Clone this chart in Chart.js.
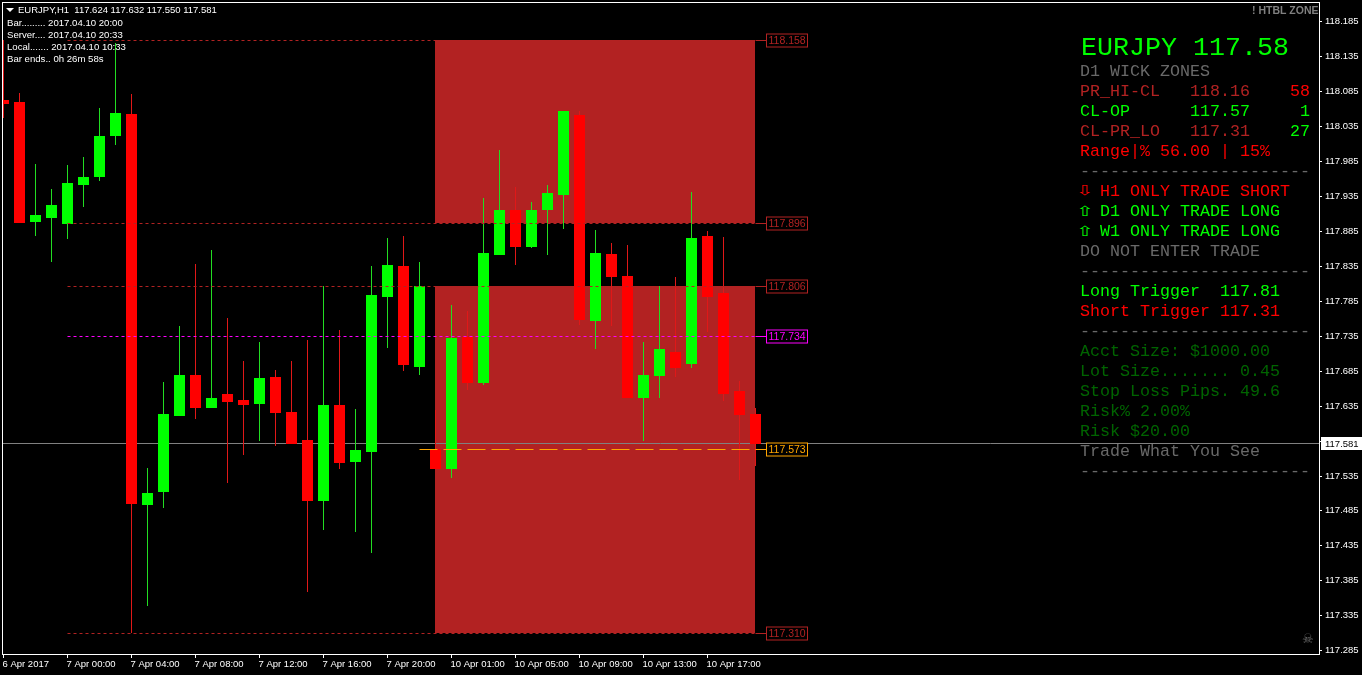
<!DOCTYPE html>
<html>
<head>
<meta charset="utf-8">
<title>EURJPY,H1</title>
<script src="https://cdn.jsdelivr.net/npm/chart.js@4/dist/chart.umd.js"></script>
<style>
	html, body { margin: 0; padding: 0; background: #000; }
	canvas { display: block; }
</style>
</head>
<body>
<canvas id="chart" width="1362" height="675"></canvas>
<script>
const opens = [118.073,118.070,117.898,117.904,117.896,117.951,117.963,118.021,118.053,117.494,117.512,117.621,117.680,117.632,117.652,117.644,117.638,117.677,117.627,117.587,117.499,117.637,117.555,117.569,117.791,117.835,117.691,117.573,117.545,117.734,117.668,117.851,117.916,117.863,117.916,117.937,118.051,117.757,117.853,117.821,117.647,117.678,117.712,117.695,117.878,117.797,117.657,117.624];
const highs = [118.159,118.083,117.981,117.946,117.980,117.991,118.062,118.155,118.082,117.547,117.670,117.750,117.838,117.858,117.761,117.700,117.727,117.687,117.700,117.730,117.807,117.744,117.631,117.835,117.876,117.878,117.841,117.629,117.780,117.771,117.933,118.001,117.948,117.927,117.951,118.057,118.057,117.887,117.868,117.866,117.727,117.807,117.820,117.941,117.886,117.877,117.671,117.632];
const lows = [118.047,117.897,117.878,117.841,117.874,117.920,117.957,118.009,117.310,117.349,117.489,117.621,117.617,117.632,117.525,117.565,117.585,117.578,117.581,117.369,117.458,117.545,117.455,117.425,117.718,117.685,117.680,117.545,117.532,117.658,117.665,117.851,117.837,117.861,117.851,117.888,117.751,117.717,117.750,117.647,117.585,117.647,117.677,117.690,117.741,117.642,117.529,117.550];
const closes = [118.067,117.897,117.908,117.923,117.954,117.963,118.021,118.054,117.495,117.511,117.624,117.680,117.632,117.647,117.641,117.637,117.675,117.625,117.581,117.499,117.637,117.554,117.572,117.794,117.837,117.694,117.807,117.545,117.732,117.668,117.854,117.916,117.863,117.916,117.940,118.057,117.758,117.854,117.820,117.647,117.680,117.717,117.690,117.876,117.791,117.652,117.622,117.581];

const timeTickBars = [0,4,8,12,16,20,24,28,32,36,40,44];
const timeTickLabels = ["6 Apr 2017","7 Apr 00:00","7 Apr 04:00","7 Apr 08:00","7 Apr 12:00","7 Apr 16:00","7 Apr 20:00","10 Apr 01:00","10 Apr 05:00","10 Apr 09:00","10 Apr 13:00","10 Apr 17:00"];
const priceTicks = [118.185,118.135,118.085,118.035,117.985,117.935,117.885,117.835,117.785,117.735,117.685,117.635,117.585,117.535,117.485,117.435,117.385,117.335,117.285];

const levelValues = [118.158,117.896,117.806,117.734,117.573,117.310];
const levelStartBars = [4,4,4,4,26,4];
const levelEndBar = 47;
const bidPrice = 117.581;

const zoneTops = [118.158,117.806];
const zoneBottoms = [117.896,117.310];
const zoneStartBar = 27;
const zoneEndBar = 47;

const RED = "#ff0000";
const LIME = "#00ff00";
const FIREBRICK = "#b22222";
const GRAY = "#696969";
const DARKGREEN = "#006400";
const levelColors = [FIREBRICK, FIREBRICK, FIREBRICK, "#ff00ff", "#ffa500", FIREBRICK];
const levelDashes = [[3,3],[3,3],[3,3],[3,3],[18,6],[3,3]];

const MONO = "'Liberation Mono', monospace";
const SANS = "'Liberation Sans', sans-serif";
const bars = opens.map((o, i) => i);

// bodies snap to the nearest pixel row, lines and ticks to the row above
let snapNearest = false;


function put(ctx, str, x, y, color, font) {
	ctx.fillStyle = color;
	ctx.font = font;
	ctx.textAlign = "left";
	ctx.textBaseline = "middle";
	ctx.fillText(str, x, y);
}

// the DejaVu arrows are too narrow, so stretch them sideways
function putArrow(ctx, str, x, y, color) {
	ctx.save();
	ctx.translate(x, y);
	ctx.scale(1.5, 1);
	put(ctx, str, 0, 0, color, "14px 'DejaVu Sans'");
	ctx.restore();
}

function drawInfo(ctx) {
	const small = "9.6px " + SANS;

	ctx.fillStyle = "#fff";
	ctx.beginPath();
	ctx.moveTo(6, 8);
	ctx.lineTo(14, 8);
	ctx.lineTo(10, 12);
	ctx.fill();

	put(ctx, "EURJPY,H1  117.624 117.632 117.550 117.581", 18, 10.5, "#fff", "9.5px " + SANS);
	put(ctx, "Bar......... 2017.04.10 20:00", 7, 23.5, "#fff", small);
	put(ctx, "Server.... 2017.04.10 20:33", 7, 35.5, "#fff", small);
	put(ctx, "Local....... 2017.04.10 10:33", 7, 47.5, "#fff", small);
	put(ctx, "Bar ends.. 0h 26m 58s", 7, 59.5, "#fff", small);

	put(ctx, "! HTBL ZONE", 1252, 11, "#808080", "bold 10.5px " + SANS);
	put(ctx, "\u2620", 1302, 640, GRAY, "13px 'DejaVu Sans'");
}

function drawPanel(ctx) {
	const mono = "16.67px " + MONO;
	const dashes = "-----------------------";

	put(ctx, "EURJPY 117.58", 1081, 48, LIME, "26.67px " + MONO);
	put(ctx, "D1 WICK ZONES", 1080, 72, GRAY, mono);

	put(ctx, "PR_HI-CL", 1080, 92, FIREBRICK, mono);
	put(ctx, "118.16", 1190, 92, FIREBRICK, mono);
	put(ctx, "58", 1290, 92, RED, mono);
	put(ctx, "CL-OP", 1080, 112, LIME, mono);
	put(ctx, "117.57", 1190, 112, LIME, mono);
	put(ctx, "1", 1300, 112, LIME, mono);
	put(ctx, "CL-PR_LO", 1080, 132, FIREBRICK, mono);
	put(ctx, "117.31", 1190, 132, FIREBRICK, mono);
	put(ctx, "27", 1290, 132, LIME, mono);
	put(ctx, "Range|% 56.00 | 15%", 1080, 152, RED, mono);
	put(ctx, dashes, 1080, 172, GRAY, mono);

	putArrow(ctx, "\u21e9", 1076, 191, RED);
	put(ctx, "H1 ONLY TRADE SHORT", 1100, 192, RED, mono);
	putArrow(ctx, "\u21e7", 1076, 212, LIME);
	put(ctx, "D1 ONLY TRADE LONG", 1100, 212, LIME, mono);
	putArrow(ctx, "\u21e7", 1076, 232, LIME);
	put(ctx, "W1 ONLY TRADE LONG", 1100, 232, LIME, mono);
	put(ctx, "DO NOT ENTER TRADE", 1080, 252, GRAY, mono);
	put(ctx, dashes, 1080, 272, GRAY, mono);

	put(ctx, "Long Trigger  117.81", 1080, 292, LIME, mono);
	put(ctx, "Short Trigger 117.31", 1080, 312, RED, mono);
	put(ctx, dashes, 1080, 332, GRAY, mono);

	put(ctx, "Acct Size: $1000.00", 1080, 352, DARKGREEN, mono);
	put(ctx, "Lot Size....... 0.45", 1080, 372, DARKGREEN, mono);
	put(ctx, "Stop Loss Pips. 49.6", 1080, 392, DARKGREEN, mono);
	put(ctx, "Risk% 2.00%", 1080, 412, DARKGREEN, mono);
	put(ctx, "Risk $20.00", 1080, 432, DARKGREEN, mono);
	put(ctx, "Trade What You See", 1080, 452, GRAY, mono);
	put(ctx, dashes, 1080, 472, GRAY, mono);
}

// zones go under the candles, everything else goes over them
const overlayPlugin = {
	id: "overlay",
	beforeDatasetUpdate(chart, args) {
		snapNearest = args.meta.type === "bar";
	},
	afterDatasetUpdate() {
		snapNearest = false;
	},
	beforeDatasetsDraw(chart) {
		const { ctx, scales: { x, y } } = chart;
		const left = Math.floor(x.getPixelForValue(zoneStartBar));
		const right = Math.floor(x.getPixelForValue(zoneEndBar));
		ctx.save();
		ctx.fillStyle = FIREBRICK;
		zoneTops.forEach((top, i) => {
			const yTop = y.getPixelForValue(top);
			ctx.fillRect(left, yTop, right - left, y.getPixelForValue(zoneBottoms[i]) - yTop);
		});
		ctx.restore();
	},
	beforeDatasetDraw(chart, args) {
		if (args.meta.type === "line") {
			chart.ctx.save();
			chart.ctx.translate(0, 0.5);
		}
	},
	afterDatasetDraw(chart, args) {
		if (args.meta.type === "line") chart.ctx.restore();
	},
	afterDatasetsDraw(chart) {
		const { ctx, chartArea, scales: { x, y } } = chart;
		ctx.save();

		drawInfo(ctx);
		drawPanel(ctx);

		// price tags at the end of each level
		const endX = x.getPixelForValue(levelEndBar);
		levelValues.forEach((value, i) => {
			const py = y.getPixelForValue(value) + 0.5;
			ctx.strokeStyle = levelColors[i];
			ctx.lineWidth = 1;
			ctx.beginPath();
			ctx.moveTo(endX, py);
			ctx.lineTo(endX + 11, py);
			ctx.stroke();
			ctx.fillStyle = "#000";
			ctx.fillRect(endX + 11, py - 6.5, 41, 13);
			ctx.strokeRect(Math.floor(endX) + 11.5, py - 6.5, 41, 13);
			put(ctx, value.toFixed(3), endX + 13, py + 0.5, levelColors[i], "10.5px " + SANS);
		});

		// chart frame
		ctx.strokeStyle = "#fff";
		ctx.lineWidth = 1;
		ctx.strokeRect(chartArea.left + 0.5, chartArea.top + 0.5, chartArea.right - chartArea.left, chartArea.bottom - chartArea.top);

		// bid tag on the price axis
		const bidY = y.getPixelForValue(bidPrice);
		ctx.fillStyle = "#fff";
		ctx.fillRect(1321, bidY - 6, 41, 13);
		put(ctx, bidPrice.toFixed(3), 1325, bidY + 1, "#000", "9.5px " + SANS);
		ctx.restore();
	}
};

new Chart(document.getElementById("chart"), {
	data: {
		datasets: [
			{
				type: "line",
				label: "Bid",
				order: 3,
				data: [{ x: -1, y: bidPrice }, { x: 83, y: bidPrice }],
				borderColor: "#808080",
				borderWidth: 1,
				pointRadius: 0
			},
			{
				type: "bar",
				label: "Wicks",
				order: 2,
				grouped: false,
				barThickness: 1,
				inflateAmount: 0,
				data: bars.map(i => ({ x: i, y: [lows[i], highs[i]] })),
				backgroundColor: bars.map(i => closes[i] >= opens[i] ? "#22dd22" : "#e01818")
			},
			{
				type: "bar",
				label: "Bodies",
				order: 1,
				grouped: false,
				barThickness: 11,
				inflateAmount: 0,
				data: bars.map(i => ({ x: i, y: [opens[i], closes[i]] })),
				backgroundColor: bars.map(i => closes[i] >= opens[i] ? LIME : RED)
			},
			...levelValues.map((value, i) => ({
				type: "line",
				label: value.toFixed(3),
				order: 0,
				data: [{ x: levelStartBars[i], y: value }, { x: levelEndBar, y: value }],
				borderColor: levelColors[i],
				borderWidth: 1,
				borderDash: levelDashes[i],
				pointRadius: 0
			}))
		]
	},
	options: {
		responsive: false,
		devicePixelRatio: 1,
		animation: false,
		layout: { padding: { left: 2, top: 2, right: 0, bottom: 0 } },
		plugins: { legend: { display: false }, tooltip: { enabled: false } },
		scales: {
			x: {
				type: "linear",
				offset: false,
				min: -0.09375,
				max: 82.21875,
				afterFit(scale) {
					scale.height = 21;
					scale.paddingLeft = 0;
					scale.paddingRight = 0;
				},
				afterBuildTicks(scale) { scale.ticks = timeTickBars.map(value => ({ value })); },
				grid: { offset: false, drawOnChartArea: false, drawTicks: true, tickLength: 4, color: "#fff" },
				border: { display: false },
				ticks: {
					autoSkip: false,
					maxRotation: 0,
					align: "start",
					padding: 1,
					labelOffset: -1,
					color: "#fff",
					font: { family: "Liberation Sans", size: 9.5 },
					callback: value => timeTickLabels[timeTickBars.indexOf(value)]
				}
			},
			y: {
				type: "linear",
				position: "right",
				min: 117.2804,
				max: 118.2131,
				afterFit(scale) {
					scale.width = 43;
					scale.paddingTop = 0;
					scale.paddingBottom = 0;
					// snap prices to whole pixels, MT4 draws no soft edges
					if (!scale.snapped) {
						const toPixel = scale.getPixelForValue.bind(scale);
						scale.getPixelForValue = value => snapNearest ? Math.round(toPixel(value)) : Math.floor(toPixel(value));
						scale.snapped = true;
					}
				},
				afterBuildTicks(scale) { scale.ticks = priceTicks.map(value => ({ value })); },
				grid: { drawOnChartArea: false, drawTicks: true, tickLength: 3, color: "#fff" },
				border: { display: false },
				ticks: {
					autoSkip: false,
					padding: 3,
					color: "#fff",
					font: { family: "Liberation Sans", size: 9.5 },
					callback: value => value.toFixed(3)
				}
			}
		}
	},
	plugins: [overlayPlugin]
});
</script>
</body>
</html>
